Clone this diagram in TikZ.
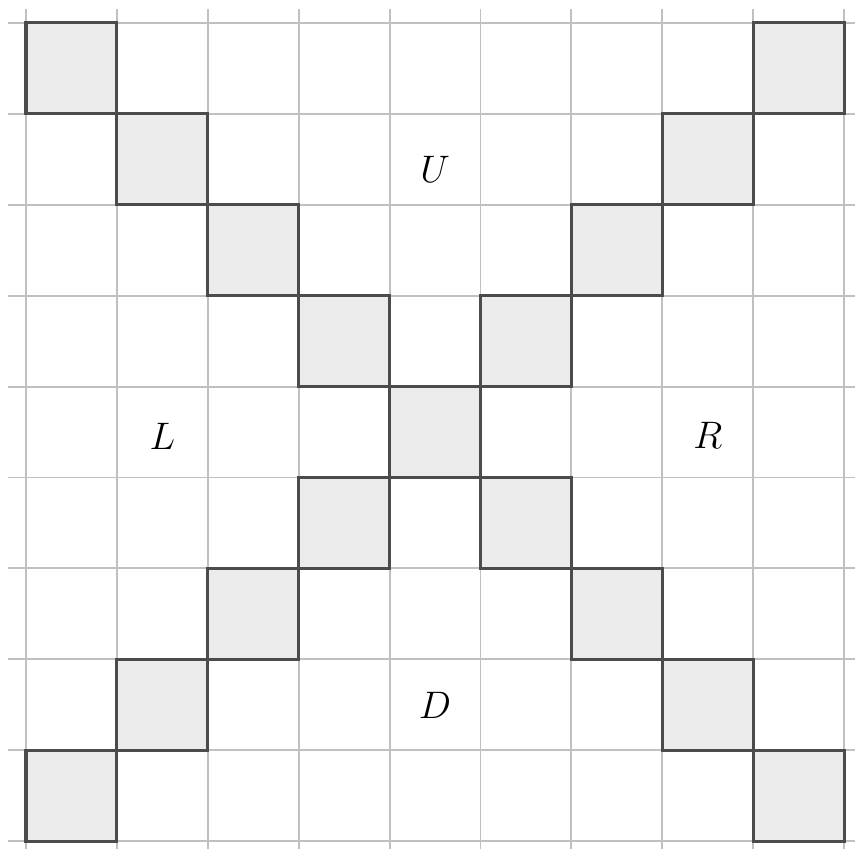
\documentclass[tikz,border=0pt]{standalone}
\usepackage{tikz}
\definecolor{gridgray}{RGB}{192,192,192}
\definecolor{cellfill}{RGB}{235,235,235}
\definecolor{celledge}{RGB}{75,75,75}

\begin{document}
\begin{tikzpicture}[x=1cm, y=1cm]
  \tikzset{diagcell/.style={fill=cellfill, draw=celledge, line width=0.95pt}}
  \useasboundingbox (-0.286,-0.077) rectangle (9.12,9.253);
  % Grid
  \draw[gridgray, line width=0.6pt] (-0.2,-0.2) grid (9.2,9.15);
  % Diagonal cells
  \foreach \i in {0,...,8} {
    \draw[diagcell] (\i,\i) rectangle ++(1,1);
    \draw[diagcell] (\i,8-\i) rectangle ++(1,1);
  }
  % Labels
  \node[font=\large] (up) at (4.5,7.39) {$U$};
  \node[font=\large] (left) at (1.5,4.45) {$L$};
  \node[font=\large] (right) at (7.5,4.46) {$R$};
  \node[font=\large] (down) at (4.5,1.49) {$D$};
\end{tikzpicture}
\end{document}
